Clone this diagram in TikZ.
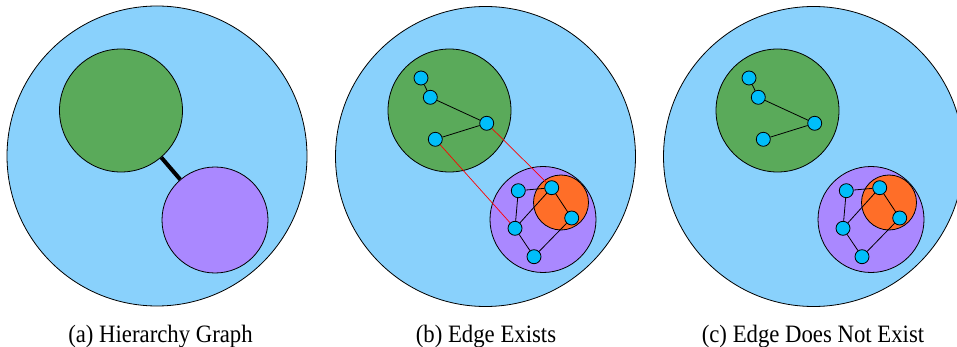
\documentclass[tikz,border=0pt]{standalone}
\usepackage{fontspec}
\setmainfont{Liberation Serif}
\definecolor{bigblue}{RGB}{137,209,252}
\definecolor{grn}{RGB}{90,170,90}
\definecolor{purp}{RGB}{170,136,255}
\definecolor{orng}{RGB}{255,110,40}
\definecolor{vcyan}{RGB}{0,190,250}
\tikzset{
  bigc/.style={circle, draw, fill=bigblue, minimum size=300pt, inner sep=0pt, line width=0.8pt},
  greenc/.style={circle, draw, fill=grn, minimum size=123pt, inner sep=0pt, line width=0.8pt},
  purplec/.style={circle, draw, fill=purp, minimum size=106pt, inner sep=0pt, line width=0.8pt},
  orangec/.style={circle, draw, fill=orng, minimum size=55pt, inner sep=0pt, line width=0.8pt},
  vtx/.style={circle, draw, fill=vcyan, minimum size=14pt, inner sep=0pt, line width=0.8pt},
  lnk/.style={draw, line width=0.8pt},
  redlnk/.style={draw, red, line width=0.7pt},
  thicklnk/.style={draw, line width=4pt},
  captxt/.style={font=\fontsize{25}{29}\selectfont, inner sep=0pt, anchor=base}
}
\newcommand{\clusterpanel}{%
  \node[bigc] (big) at (485.5,156.5) {};
  \node[greenc] (green) at (449.5,110.5) {};
  \node[purplec] (purple) at (543,219.5) {};
  \node[orangec] (orange) at (561,202.5) {};
  \node[vtx] (n1) at (421,78) {};
  \node[vtx] (n2) at (430.3,97.3) {};
  \node[vtx] (n3) at (486.7,123.3) {};
  \node[vtx] (n4) at (435.3,139.3) {};
  \node[vtx] (p1) at (518.3,190.7) {};
  \node[vtx] (p2) at (551.7,187.7) {};
  \node[vtx] (p3) at (571.7,218) {};
  \node[vtx] (p4) at (515,228.3) {};
  \node[vtx] (p5) at (534,256.7) {};
  \path[lnk] (n1) -- (n2);
  \path[lnk] (n2) -- (n3);
  \path[lnk] (n3) -- (n4);
  \path[lnk] (p1) -- (p2);
  \path[lnk] (p1) -- (p4);
  \path[lnk] (p4) -- (p2);
  \path[lnk] (p2) -- (p3);
  \path[lnk] (p4) -- (p5);
  \path[lnk] (p5) -- (p3);
}
\begin{document}
\begin{tikzpicture}[x=1pt, y=-1pt]
  \useasboundingbox[fill=white] (0,0) rectangle (957,347);
  % panel (a)
  \node[bigc] (a-big) at (157,156) {};
  \node[greenc] (a-green) at (121,110.5) {};
  \node[purplec] (a-purple) at (215,220) {};
  \path[thicklnk] (a-green) -- (a-purple);
  % panel (b)
  \begin{scope}[name prefix=b-]
    \clusterpanel
  \end{scope}
  \path[redlnk] (b-n3) -- (b-p2);
  \path[redlnk] (b-n4) -- (b-p4);
  % panel (c)
  \begin{scope}[xshift=328pt, name prefix=c-]
    \clusterpanel
  \end{scope}
  % captions
  \node[captxt] (capa) at (160.5,342) {\scalebox{0.91}[1]{(a) Hierarchy Graph}};
  \node[captxt] (capb) at (486,342) {\scalebox{0.91}[1]{(b) Edge Exists}};
  \node[captxt] (capc) at (813,342) {\scalebox{0.91}[1]{(c) Edge Does Not Exist}};
\end{tikzpicture}
\end{document}
